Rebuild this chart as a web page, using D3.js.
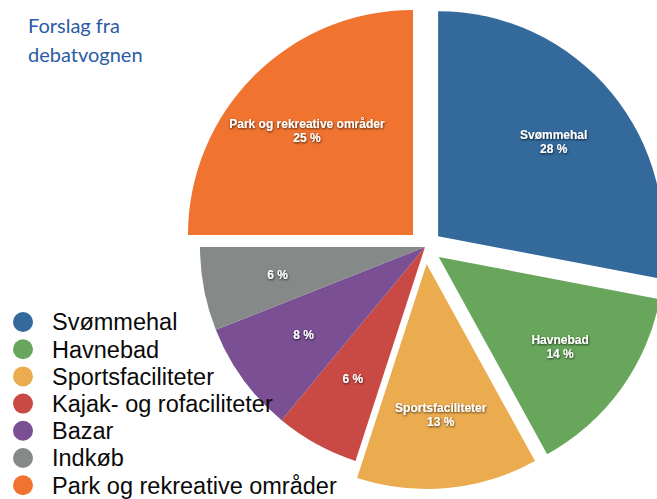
<!DOCTYPE html>
<html>
<head>
<meta charset="utf-8">
<script src="https://cdn.jsdelivr.net/npm/d3@7"></script>
<style>
  body { margin: 0; background: #fff; }
  svg { display: block; }
</style>
</head>
<body>
<div id="chart"></div>
<script>
// data
let categories = ["Svømmehal", "Havnebad", "Sportsfaciliteter", "Kajak- og rofaciliteter", "Bazar", "Indkøb", "Park og rekreative områder"];
let shares = [28, 14, 13, 6, 8, 6, 25];
let sliceLabels = ["Svømmehal", "Havnebad", "Sportsfaciliteter", "", "", "", "Park og rekreative områder"];
let exploded = [true, true, true, false, false, false, true];
let colors = ["#33699b", "#68a65c", "#ebab4f", "#c94a44", "#7a4f93", "#858988", "#f0732f"];

const width = 657, height = 499;
const cx = 425, cy = 247, radius = 225, offset = 17;

let svg = d3.select("#chart")
    .append("svg")
    .attr("width", width)
    .attr("height", height);

let defs = svg.append("defs");
let filter = defs.append("filter").attr("id", "shadow")
    .attr("x", "-20%").attr("y", "-50%").attr("width", "140%").attr("height", "200%");
filter.append("feDropShadow")
    .attr("dx", 0.5).attr("dy", 1).attr("stdDeviation", 0.8)
    .attr("flood-color", "#000").attr("flood-opacity", 0.75);

let pieData = d3.pie().sort(null).value(d => d.value)(
    categories.map((c, i) => ({ name: c, value: shares[i], label: sliceLabels[i], explode: exploded[i], color: colors[i] }))
);

let arc = d3.arc().innerRadius(0).outerRadius(radius);

let pie = svg.append("g").attr("transform", `translate(${cx}, ${cy})`);

// shift each exploded slice outward along its mid angle
function shift(d) {
    if (!d.data.explode) return [0, 0];
    let a = (d.startAngle + d.endAngle) / 2;
    return [Math.sin(a) * offset, -Math.cos(a) * offset];
}

let slices = pie.selectAll("g.slice")
    .data(pieData)
    .enter()
    .append("g")
    .attr("class", "slice")
    .attr("transform", d => `translate(${shift(d)})`);

slices.append("path")
    .attr("d", arc)
    .attr("fill", d => d.data.color);

// slice labels at 2/3 of the radius
let labelR = 150;
let labels = slices.append("text")
    .attr("transform", d => {
        let a = (d.startAngle + d.endAngle) / 2;
        return `translate(${Math.sin(a) * labelR}, ${-Math.cos(a) * labelR})`;
    })
    .attr("text-anchor", "middle")
    .attr("fill", "#fff")
    .attr("filter", "url(#shadow)")
    .style("font-family", "'Liberation Sans', Arial, sans-serif")
    .style("font-size", "12px")
    .style("font-weight", "bold");

labels.each(function(d) {
    let t = d3.select(this);
    if (d.data.label) {
        t.append("tspan").attr("x", 0).attr("dy", "-0.1em").text(d.data.label);
        t.append("tspan").attr("x", 0).attr("dy", "1.15em").text(d.data.value + " %");
    } else {
        t.append("tspan").attr("x", 0).attr("dy", "0.35em").text(d.data.value + " %");
    }
});

// title
let title = svg.append("text")
    .attr("x", 28)
    .attr("fill", "#2b5ba6")
    .style("font-family", "Lato, 'Open Sans', sans-serif")
    .style("font-size", "20px");
title.append("tspan").attr("x", 28).attr("y", 33).text("Forslag fra");
title.append("tspan").attr("x", 28).attr("y", 62).text("debatvognen");

// legend
let legend = svg.append("g").attr("transform", "translate(23, 322)");
let rowH = 27.2;
let items = legend.selectAll("g")
    .data(categories)
    .enter()
    .append("g")
    .attr("transform", (d, i) => `translate(0, ${i * rowH})`);

items.append("circle")
    .attr("r", 10)
    .attr("fill", (d, i) => colors[i]);

items.append("text")
    .attr("x", 29)
    .attr("dy", "0.36em")
    .attr("fill", "#0a0a0a")
    .style("font-family", "'Liberation Sans', Arial, sans-serif")
    .style("font-size", "23.5px")
    .text(d => d);
</script>
</body>
</html>
